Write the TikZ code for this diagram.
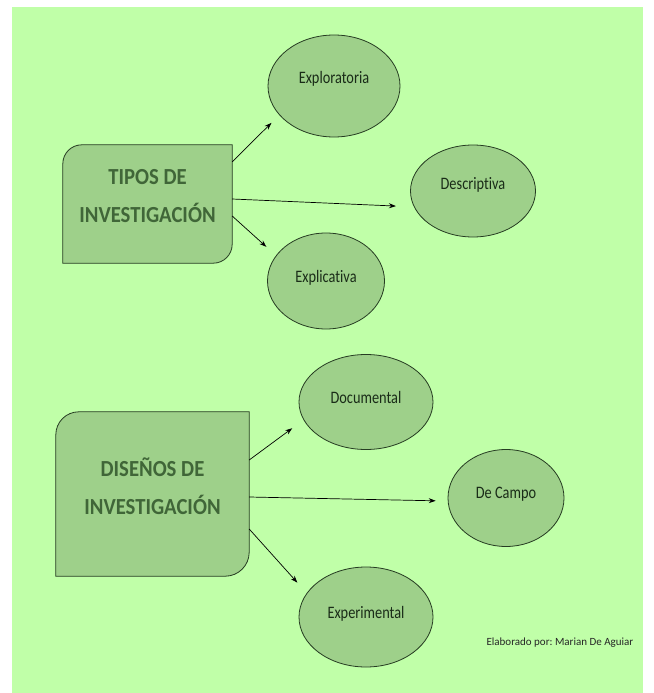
\documentclass[tikz,border=0pt]{standalone}
\usepackage{fontspec}
\setmainfont{Carlito}[Ligatures=NoCommon]
\newfontfamily\estrecho{Carlito}[FakeStretch=0.82,Ligatures=NoCommon]
\newfontfamily\ancho{Carlito}[FakeStretch=0.9,Ligatures=NoCommon]
\usetikzlibrary{shapes.geometric,arrows.meta,backgrounds}
\definecolor{fondo}{RGB}{192,255,168}
\definecolor{relleno}{RGB}{158,208,138}
\definecolor{borde}{RGB}{38,60,34}
\definecolor{titulo}{RGB}{64,102,56}
\definecolor{letra}{RGB}{26,44,24}
\tikzset{
  globo/.style={ellipse,draw=borde,fill=relleno,line width=0.8pt,inner sep=0pt,
    text=letra,font=\estrecho\fontsize{17.5}{20}\selectfont},
  caja/.style={inner sep=0pt,align=center,text=titulo,
    font=\ancho\bfseries\fontsize{23}{38}\selectfont},
  marco/.style={draw=borde,fill=relleno,line width=0.8pt},
  flecha/.style={-{Stealth[length=7pt,width=5pt]},line width=0.7pt}
}
\newcommand{\bajo}[1]{\rule[-#1]{0pt}{#1}}
\frenchspacing

\begin{document}
\begin{tikzpicture}[x=1pt,y=-1pt]
  \useasboundingbox (0,0) rectangle (653,693);
  \begin{scope}[on background layer]
    \fill[fondo] (12,7) rectangle (643,693);
  \end{scope}
  % tipos de investigacion
  \node[caja,minimum width=169pt,minimum height=118pt] (tipos) at (147.5,204) {TIPOS DE\\INVESTIGACIÓN\bajo{16pt}};
  \node[globo,minimum width=132pt,minimum height=102pt] (explo) at (334,86) {Exploratoria\bajo{18pt}};
  \node[globo,minimum width=125pt,minimum height=92pt] (descr) at (473,191) {Descriptiva\bajo{16pt}};
  \node[globo,minimum width=117pt,minimum height=96pt] (expli) at (326,281) {Explicativa\bajo{9pt}};
  % disenos de investigacion
  \node[caja,minimum width=193pt,minimum height=164pt] (disenos) at (152.5,494) {DISEÑOS DE\\INVESTIGACIÓN\bajo{15pt}};
  \node[globo,minimum width=134pt,minimum height=95pt] (docu) at (366,402) {Documental\bajo{9pt}};
  \node[globo,minimum width=116pt,minimum height=97pt] (campo) at (506,498) {De Campo\bajo{10pt}};
  \node[globo,minimum width=134pt,minimum height=100pt] (exper) at (366,617) {Experimental\bajo{9pt}};
  \begin{scope}[on background layer]
    \draw[marco] (tipos.south west) -- ([yshift=-19pt]tipos.north west)
      arc[start angle=180,end angle=90,radius=19pt] -- (tipos.north east)
      -- ([yshift=19pt]tipos.south east) arc[start angle=0,end angle=-90,radius=19pt] -- cycle;
    \draw[marco] (disenos.south west) -- ([yshift=-23pt]disenos.north west)
      arc[start angle=180,end angle=90,radius=23pt] -- (disenos.north east)
      -- ([yshift=24pt]disenos.south east) arc[start angle=0,end angle=-90,radius=24pt] -- cycle;
  \end{scope}
  \draw[flecha,shorten >=11pt] ([yshift=-17pt]tipos.north east) -- (explo.208);
  \draw[flecha,shorten >=18pt] ([yshift=5pt]tipos.east) -- (descr.195);
  \draw[flecha,shorten >=13pt] ([yshift=-12pt]tipos.east) -- (expli.153);
  \draw[flecha,shorten >=14pt] ([yshift=34pt]disenos.east) -- (docu.196);
  \draw[flecha,shorten >=12pt] ([yshift=-3pt]disenos.east) -- (campo.183);
  \draw[flecha,shorten >=14pt] ([yshift=-35pt]disenos.east) -- (exper.158);
  \node[anchor=west,text=black!85,font=\fontsize{11}{13}\selectfont] (firma) at (483,643) {Elaborado por: Marian De Aguiar};
\end{tikzpicture}
\end{document}
